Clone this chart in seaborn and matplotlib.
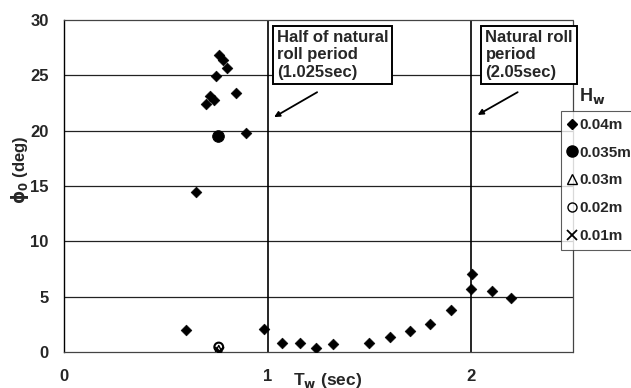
import matplotlib
matplotlib.use("Agg")
import matplotlib.pyplot as plt
import seaborn as sns
import pandas as pd
import numpy as np
from matplotlib.lines import Line2D

# ---- data ----
tw_004 = [0.60, 0.65, 0.696, 0.715, 0.735, 0.745, 0.76, 0.78, 0.80, 0.847, 0.895,
          0.98, 1.07, 1.157, 1.24, 1.32, 1.50, 1.60, 1.70, 1.80, 1.90,
          2.00, 2.006, 2.10, 2.196]
phi_004 = [2.0, 14.5, 22.4, 23.1, 22.8, 24.9, 26.8, 26.4, 25.7, 23.4, 19.8,
           2.1, 0.85, 0.78, 0.33, 0.69, 0.78, 1.38, 1.92, 2.53, 3.8,
           5.66, 7.05, 5.54, 4.85]
tw_0035 = [0.758]
phi_0035 = [19.5]
tw_003 = [0.76]
phi_003 = [0.25]
tw_002 = [0.76]
phi_002 = [0.45]
tw_001 = [0.76]
phi_001 = [0.1]

hw_labels = ["0.04m", "0.035m", "0.03m", "0.02m", "0.01m"]
y_ticks = [0, 5, 10, 15, 20, 25, 30]
x_ticks = [0, 1, 2]
half_period = 1.0   # drawn position of the "half of natural roll period" line
natural_period = 2.0  # drawn position of the "natural roll period" line

sns.set_theme(style="white")
plt.rcParams['font.family'] = ['Liberation Sans', 'DejaVu Sans']

fig = plt.figure(figsize=(6.31, 3.88), dpi=100)
ax = fig.add_axes([64/631, 1-352/388, (573-64)/631, (352-20)/388])

frames = {
    "0.04m": (tw_004, phi_004),
    "0.035m": (tw_0035, phi_0035),
    "0.03m": (tw_003, phi_003),
    "0.02m": (tw_002, phi_002),
    "0.01m": (tw_001, phi_001),
}
df = pd.concat([pd.DataFrame({"Tw": v[0], "phi": v[1], "Hw": k}) for k, v in frames.items()],
               ignore_index=True)

# grid lines
for yv in y_ticks[1:-1]:
    ax.axhline(yv, color="#222222", lw=0.9, zorder=1)
ax.axvline(half_period, color="black", lw=1.2, zorder=1)
ax.axvline(natural_period, color="black", lw=1.2, zorder=1)

styles = {
    "0.04m": dict(marker="D", s=30, color="black", edgecolor="black"),
    "0.035m": dict(marker="o", s=70, color="black", edgecolor="black"),
    "0.03m": dict(marker="^", s=30, facecolor="none", edgecolor="black", linewidth=1.0),
    "0.02m": dict(marker="o", s=40, facecolor="none", edgecolor="black", linewidth=1.5),
    "0.01m": dict(marker="x", s=40, color="black", linewidth=1.5),
}
for k in hw_labels:
    sub = df[df["Hw"] == k]
    sns.scatterplot(data=sub, x="Tw", y="phi", ax=ax, legend=False, zorder=3, **styles[k])

ax.set_xlim(0, 2.5)
ax.set_ylim(0, 30)
ax.set_xticks(x_ticks)
ax.set_yticks(y_ticks)
ax.set_xticklabels([str(t) for t in x_ticks], fontsize=12, fontweight="bold")
ax.set_yticklabels([str(t) for t in y_ticks], fontsize=12, fontweight="bold")
ax.tick_params(axis="x", length=0, pad=12)
ax.tick_params(axis="y", length=0, pad=11)
ax.set_xlabel("")
ax.set_ylabel("")

for side in ["top", "right", "bottom"]:
    ax.spines[side].set_linestyle((0, (1, 1)))
    ax.spines[side].set_color("#444444")
    ax.spines[side].set_linewidth(0.9)
ax.spines["left"].set_color("black")
ax.spines["left"].set_linewidth(1.0)

# annotations
ax.annotate("", xy=(1.02, 21.1), xytext=(1.255, 23.6),
            arrowprops=dict(arrowstyle="-|>", color="black", lw=1.3, mutation_scale=8), zorder=4)
ax.annotate("", xy=(2.02, 21.3), xytext=(2.24, 23.6),
            arrowprops=dict(arrowstyle="-|>", color="black", lw=1.3, mutation_scale=8), zorder=4)
box = dict(boxstyle="square,pad=0.25", facecolor="white", edgecolor="black", linewidth=1.4)
ax.text(1.045, 29.1, "Half of natural\nroll period\n(1.025sec)", fontsize=12, fontweight="bold",
        va="top", ha="left", bbox=box, linespacing=1.2, zorder=5)
ax.text(2.07, 29.1, "Natural roll\nperiod\n(2.05sec)", fontsize=12, fontweight="bold",
        va="top", ha="left", bbox=box, linespacing=1.2, zorder=5)

# legend
handles = [
    Line2D([], [], marker="D", ls="none", color="black", markersize=5),
    Line2D([], [], marker="o", ls="none", color="black", markersize=8),
    Line2D([], [], marker="^", ls="none", markerfacecolor="none", markeredgecolor="black", markersize=6.5),
    Line2D([], [], marker="o", ls="none", markerfacecolor="none", markeredgecolor="black", markersize=6.5),
    Line2D([], [], marker="x", ls="none", color="black", markersize=7, markeredgewidth=1.3),
]
leg = fig.legend(handles, hw_labels, loc="upper left", bbox_to_anchor=(561/631, 1-111/388),
                 frameon=True, handlelength=0.55, handletextpad=0.2,
                 labelspacing=0.9, borderpad=0.45, borderaxespad=0, fancybox=False,
                 prop=dict(weight="bold", size=11))
leg.get_frame().set_edgecolor("#333333")
leg.get_frame().set_linewidth(0.8)

fig.text(592/631, 1-96/388, r"H$_\mathbf{w}$", fontsize=13, fontweight="bold", ha="center", va="center")
fig.text(328/631, 1-380/388, r"T$_\mathbf{w}$ (sec)", fontsize=12.5, fontweight="bold", ha="center", va="center")
fig.text(20/631, 1-170/388, r"$\mathbf{\phi}_\mathbf{0}$ (deg)", fontsize=12, fontweight="bold",
         ha="center", va="center", rotation=90)

fig.savefig("out.png", dpi=100)
